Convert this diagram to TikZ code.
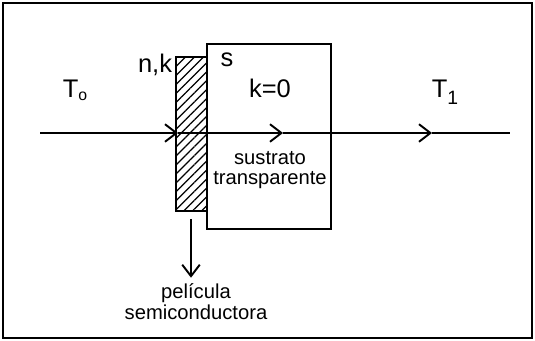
\documentclass[tikz,border=0pt]{standalone}
\usepackage{fontspec}
\setmainfont{Liberation Sans}
\usetikzlibrary{arrows.meta,patterns.meta}
\begin{document}
\begin{tikzpicture}[
    x=0.02cm, y=-0.02cm,
    frame/.style={line width=1.6pt},
    layer/.style={rectangle, draw, line width=1.1pt, inner sep=0pt, outer sep=0pt},
    ray/.style={line width=1.1pt, -{Straight Barb[length=6.5pt,width=10pt,line width=1.1pt]}},
    big/.style={font=\fontsize{14.5}{16}\selectfont},
    small/.style={font=\fontsize{11.5}{13}\selectfont, align=center},
]
\useasboundingbox (0,0) rectangle (535,341);
\draw[frame] (3,3) rectangle (532,338);

% substrate and film
\node[layer, minimum width=2.48cm, minimum height=3.7cm] (sub) at (269,136.5) {};
\node[layer, minimum width=0.62cm, minimum height=3.08cm,
      pattern={Lines[angle=45,distance=3.6pt,line width=0.7pt]}] (film) at (191.5,134) {};
\draw[layer] (film.north west) rectangle (film.south east);

% ray through the sample
\coordinate (in) at (40,133);
\coordinate (a1) at (178,133);
\coordinate (a2) at (283,133);
\coordinate (a3) at (432,133);
\coordinate (out) at (510,133);
\draw[ray] (in) -- (a1);
\draw[ray] (a1) -- (a2);
\draw[ray] (a2) -- (a3);
\draw[line width=1.1pt] (a3) -- (out);

% labels
\node[big] (t0) at (75,90) {T\raisebox{-1.5pt}{\fontsize{9}{9}\selectfont o}};
\node[big] (t1) at (445,92) {T\raisebox{-4pt}{\fontsize{11}{11}\selectfont 1}};
\node[big] (nk) at (155,65) {n,k};
\node[big] (s) at (227,60) {s};
\node[big] (k0) at (270,88) {k=0};
\node[small] (subtxt) at (270,170) {sustrato\\[-2pt]transparente};

% film label
\coordinate (dn) at (191,219);
\node[small] (filmtxt) at (196,302) {película\\[-1pt]semiconductora};
\draw[ray] (dn) -- (filmtxt.north -| dn);
\end{tikzpicture}
\end{document}
